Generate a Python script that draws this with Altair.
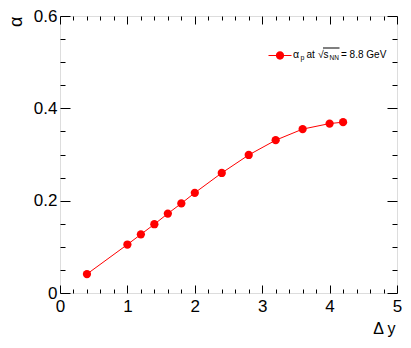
import altair as alt
import pandas as pd

# data
delta_y = [0.4, 1.0, 1.2, 1.4, 1.6, 1.8, 2.0, 2.4, 2.8, 3.2, 3.6, 4.0, 4.2]
alpha_p = [0.041, 0.105, 0.127, 0.149, 0.172, 0.194, 0.217, 0.260, 0.299, 0.331, 0.355, 0.367, 0.370]
series = ["alpha_p"] * len(delta_y)

x_tick_values = [0, 0.2, 0.4, 0.6, 0.8, 1, 1.2, 1.4, 1.6, 1.8, 2, 2.2, 2.4, 2.6, 2.8, 3,
                 3.2, 3.4, 3.6, 3.8, 4, 4.2, 4.4, 4.6, 4.8, 5]
y_tick_values = [0, 0.05, 0.1, 0.15, 0.2, 0.25, 0.3, 0.35, 0.4, 0.45, 0.5, 0.55, 0.6]

x_title = "Δ y"
y_title = "α"

df = pd.DataFrame({"dy": delta_y, "alpha": alpha_p, "series": series})
anno = pd.DataFrame({"k": [0]})

FONT = "Liberation Sans"
xmaj = "abs(datum.value - round(datum.value)) < 0.001"
ymaj = "abs(datum.value * 5 - round(datum.value * 5)) < 0.001"

xs = alt.Scale(domain=[0, 5], nice=False, zero=False)
ys = alt.Scale(domain=[0, 0.6], nice=False, zero=False)

W, H = 337, 277
LEFT = 52

x_bottom = alt.Axis(orient="bottom", values=x_tick_values, grid=False, domain=False,
                    tickColor="black", tickSize={"expr": f"{xmaj} ? -8 : -4"},
                    labelExpr=f"{xmaj} ? format(datum.value, 'd') : ''",
                    labelPadding=13, labelFontSize=17, labelFont=FONT, labelColor="black",
                    labelOverlap=False, labelFlush=False,
                    title=x_title, titleX=W - 2, titleY=40, titleAlign="right",
                    titleBaseline="alphabetic", titleFontSize=16, titleFont=FONT,
                    titleFontWeight="normal", titleColor="black")
y_left = alt.Axis(orient="left", values=y_tick_values, grid=False, domain=False,
                  tickColor="black", tickSize={"expr": f"{ymaj} ? -10 : -5"},
                  labelExpr=f"{ymaj} ? format(datum.value, '~g') : ''",
                  labelPadding=13, labelFontSize=17, labelFont=FONT, labelColor="black",
                  labelOverlap=False, labelFlush=False,
                  title=y_title, titleAngle=270, titleX=-39, titleY=0, titleAlign="right",
                  titleBaseline="alphabetic", titleFontSize=18, titleFont=FONT,
                  titleFontWeight="normal", titleColor="black")
x_top = alt.Axis(orient="top", values=x_tick_values, grid=False, domain=False, labels=False,
                 tickColor="black", tickSize={"expr": f"{xmaj} ? -8 : -4"}, title=None)
y_right = alt.Axis(orient="right", values=y_tick_values, grid=False, domain=False, labels=False,
                   tickColor="black", tickSize={"expr": f"{ymaj} ? -10 : -5"}, title=None)

line = alt.Chart(df).mark_line(color="#ff0000", strokeWidth=1).encode(
    x=alt.X("dy:Q", scale=xs, axis=x_bottom),
    y=alt.Y("alpha:Q", scale=ys, axis=y_left),
)

r = 0.36
h = 0.0435
sym = (f"M-1,{-h}H1V{h}H-1Z"
       f"M{-r},0A{r},{r} 0 1,1 {r},0A{r},{r} 0 1,1 {-r},0Z")

points = alt.Chart(df).mark_point(filled=True, size=68, opacity=1).encode(
    x=alt.X("dy:Q", scale=xs, axis=x_top),
    y=alt.Y("alpha:Q", scale=ys, axis=y_right),
    color=alt.Color("series:N", scale=alt.Scale(range=["#ff0000"]),
                    legend=alt.Legend(orient="none", legendX=207.5, legendY=27, title=None,
                                      symbolType=sym, symbolSize=529, padding=0,
                                      labelExpr="''", symbolOpacity=1)),
)

def txt(s, x, y, size):
    return alt.Chart(anno).mark_text(text=s, align="left", baseline="alphabetic",
                                     font=FONT, fontSize=size, color="black").encode(
        x=alt.value(x), y=alt.value(y))

dx = 2
pieces = [
    txt("α", 231 + dx, 41.5, 10.5),
    txt("p", 238.5 + dx, 44, 7),
    txt("at", 244.5 + dx, 41.5, 10),
    txt("√", 256 + dx, 41.5, 10.5),
    txt("s", 261.5 + dx, 41.5, 10),
    txt("NN", 267.5 + dx, 44, 6.5),
    txt("= 8.8 GeV", 279 + dx, 41.5, 10),
]
overline = alt.Chart(anno).mark_rule(color="black", strokeWidth=1).encode(
    x=alt.value(261 + dx), x2=alt.value(277.5 + dx), y=alt.value(32))

chart = alt.layer(line, points, *pieces, overline).resolve_axis(
    x="independent", y="independent"
).properties(
    width=W, height=H,
    autosize=alt.AutoSizeParams(type="none"),
    padding={"left": LEFT, "top": 8, "right": 395 - LEFT - W, "bottom": 47},
).configure_view(stroke="black", strokeWidth=1).configure(background="white")

chart.save("out.html", embed_options={"renderer": "svg", "actions": False})
